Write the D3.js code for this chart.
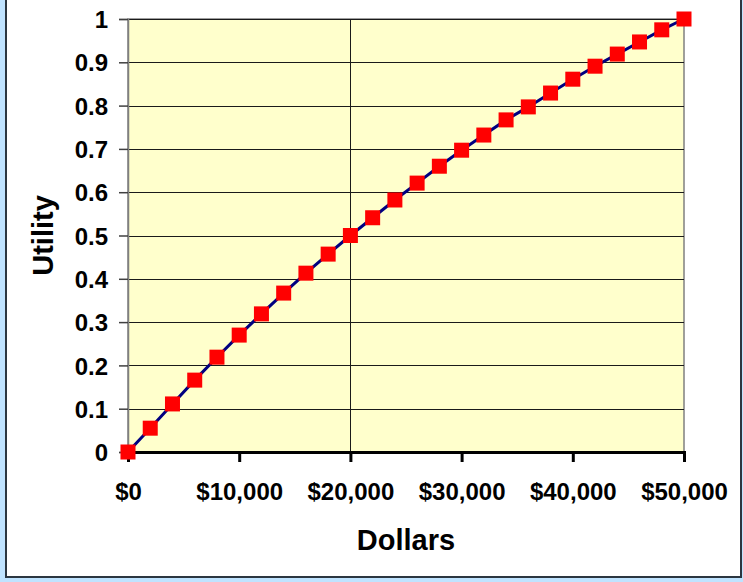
<!DOCTYPE html>
<html lang="en">
<head>
    <meta charset="UTF-8">
    <script src="https://d3js.org/d3.v7.min.js"></script>
    <title>Utility of Dollars</title>
    <style>
        body { margin: 0; background: #bfe3ff; }
        svg { display: block; }
        text { font-family: "Liberation Sans", Arial, sans-serif; font-weight: bold; fill: #000; }
    </style>
</head>
<body>
<svg width="743" height="582" id="chart"></svg>
<script>
    // Data: dollars every $2,000 and the utility of each
    const dollars = [0, 2000, 4000, 6000, 8000, 10000, 12000, 14000, 16000, 18000, 20000,
        22000, 24000, 26000, 28000, 30000, 32000, 34000, 36000, 38000, 40000,
        42000, 44000, 46000, 48000, 50000];
    const utility = [0, 0.055, 0.111, 0.166, 0.219, 0.27, 0.319, 0.367, 0.413, 0.457, 0.5,
        0.541, 0.582, 0.621, 0.66, 0.697, 0.732, 0.767, 0.797, 0.829, 0.861,
        0.891, 0.919, 0.947, 0.975, 1];
    const xTicks = [0, 10000, 20000, 30000, 40000, 50000];
    const yTicks = [0, 0.1, 0.2, 0.3, 0.4, 0.5, 0.6, 0.7, 0.8, 0.9, 1];
    const xGrid = [20000];

    const svg = d3.select("#chart");

    // outer frame, the top edge is cropped off
    svg.append("rect")
        .attr("x", 6).attr("y", -10)
        .attr("width", 735).attr("height", 587)
        .style("fill", "white")
        .style("stroke", "#2b3640")
        .style("stroke-width", 2);

    const plotLeft = 128, plotRight = 684, plotTop = 19, plotBottom = 452;

    const x = d3.scaleLinear().domain([0, 50000]).range([plotLeft, plotRight]);
    const y = d3.scaleLinear().domain([0, 1]).range([plotBottom, plotTop]);

    // plot background
    svg.append("rect")
        .attr("x", plotLeft).attr("y", plotTop)
        .attr("width", plotRight - plotLeft).attr("height", plotBottom - plotTop)
        .style("fill", "#ffffcc")
        .style("stroke", "#808080")
        .style("stroke-width", 1.5);

    // horizontal gridlines
    svg.selectAll(".hgrid")
        .data(yTicks.slice(1))
        .enter()
        .append("line")
        .attr("x1", plotLeft).attr("x2", plotRight)
        .attr("y1", d => Math.round(y(d)) + 0.5)
        .attr("y2", d => Math.round(y(d)) + 0.5)
        .style("stroke", "#1a1a1a")
        .style("stroke-width", 1);

    // the single vertical gridline
    svg.selectAll(".vgrid")
        .data(xGrid)
        .enter()
        .append("line")
        .attr("x1", d => Math.round(x(d)) + 0.5)
        .attr("x2", d => Math.round(x(d)) + 0.5)
        .attr("y1", plotTop).attr("y2", plotBottom)
        .style("stroke", "#1a1a1a")
        .style("stroke-width", 1);

    // y axis
    const yAxis = svg.append("g")
        .attr("transform", "translate(" + plotLeft + ",0)")
        .call(d3.axisLeft(y).tickValues(yTicks).tickSize(9).tickPadding(11)
            .tickFormat(d => String(+d.toFixed(1))));
    yAxis.select(".domain").style("stroke", "#808080").style("stroke-width", 1.5);
    yAxis.selectAll(".tick line").style("stroke", "#404040").style("stroke-width", 1.5);
    yAxis.selectAll("text")
        .style("font-size", "24px")
        .style("font-family", "'Liberation Sans', Arial, sans-serif")
        .style("font-weight", "bold")
        .attr("dy", "0.36em");

    // x axis
    const xAxis = svg.append("g")
        .attr("transform", "translate(0," + plotBottom + ")")
        .call(d3.axisBottom(x).tickValues(xTicks).tickSize(10).tickPadding(21)
            .tickFormat(d => "$" + d3.format(",")(d)));
    xAxis.select(".domain").style("stroke", "#000").style("stroke-width", 3);
    xAxis.selectAll(".tick line").style("stroke", "#000").style("stroke-width", 3);
    xAxis.selectAll("text")
        .style("font-size", "24px")
        .style("font-family", "'Liberation Sans', Arial, sans-serif")
        .style("font-weight", "bold");

    // axis titles
    svg.append("text")
        .attr("x", (plotLeft + plotRight) / 2)
        .attr("y", 550)
        .attr("text-anchor", "middle")
        .style("font-size", "29px")
        .text("Dollars");

    svg.append("text")
        .attr("transform", "translate(53," + ((plotTop + plotBottom) / 2) + ") rotate(-90)")
        .attr("text-anchor", "middle")
        .style("font-size", "29px")
        .text("Utility");

    const points = dollars.map((d, i) => ({ x: d, y: utility[i] }));

    // line
    svg.append("path")
        .datum(points)
        .attr("d", d3.line().x(d => x(d.x)).y(d => y(d.y)))
        .style("fill", "none")
        .style("stroke", "#000080")
        .style("stroke-width", 3);

    // square markers
    const size = 15;
    svg.selectAll(".marker")
        .data(points)
        .enter()
        .append("rect")
        .attr("x", d => x(d.x) - size / 2)
        .attr("y", d => y(d.y) - size / 2)
        .attr("width", size)
        .attr("height", size)
        .style("fill", "#ff0000");
</script>
</body>
</html>
